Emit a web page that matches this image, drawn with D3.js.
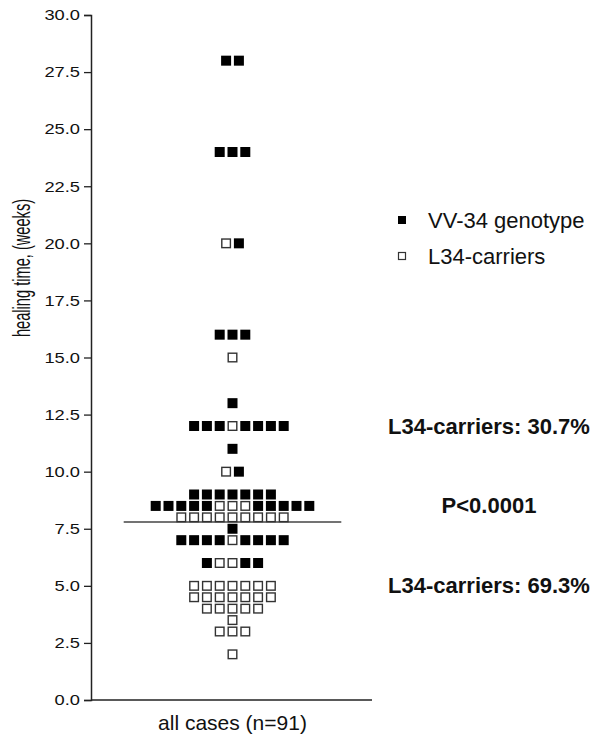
<!DOCTYPE html>
<html lang="en">
	<head>
		<meta charset="utf-8">
		<title>Healing time scatter</title>
		<script type="text/javascript" src="https://d3js.org/d3.v7.min.js"></script>
		<style type="text/css">
			body { margin: 0; background: #fff; }
			text { font-family: "Liberation Sans", Arial, sans-serif; fill: #111; }
		</style>
	</head>
	<body>
		<script type="text/javascript">

			//Width and height
			var w = 602;
			var h = 736;

			// one row per healing time value, F = VV-34 genotype, O = L34-carriers
			var rowValues = [28, 24, 20, 16, 15, 13, 12, 11, 10, 9, 8.5, 8, 7.5, 7, 6, 5, 4.5, 4, 3.5, 3, 2];
			var rowGroups = ["FF", "FFF", "OF", "FFF", "O", "F", "FFFOFFFF", "F", "OF", "FFFFFFF",
				"FFFFFOOOFFFFF", "OOOOOOOOO", "F", "FFFFOFFFF", "FOOFF", "OOOOOOO", "OOOOOOO",
				"OOOOO", "O", "OOO", "O"];
			// slot shift of a row (the 12.0 row is set half a slot to the right)
			var rowShift = [0, 0, 0, 0, 0, 0, 0.5, 0, 0, 0, 0, 0, 0, 0, 0, 0, 0, 0, 0, 0, 0];

			var cutoff = 7.8;
			var yTicks = [0, 2.5, 5, 7.5, 10, 12.5, 15, 17.5, 20, 22.5, 25, 27.5, 30];
			var legendLabels = ["VV-34 genotype", "L34-carriers"];
			var notes = ["L34-carriers: 30.7%", "P<0.0001", "L34-carriers: 69.3%"];
			var noteValues = [12, 8.5, 5];
			var categoryLabel = "all cases (n=91)";
			var yLabel = "healing time, (weeks)";

			// flatten rows to points
			var points = [];
			rowValues.forEach(function(v, i) {
				var g = rowGroups[i];
				for (var j = 0; j < g.length; j++) {
					points.push({ value: v, filled: g[j] == "F", slot: j - (g.length - 1) / 2 + rowShift[i] });
				}
			});

			var y = d3.scaleLinear().domain([0, 30]).range([700, 15]);
			var x = d3.scaleLinear().domain([-1, 1]).range([232.5 - 12.8, 232.5 + 12.8]);

			//Create SVG element
			var svg = d3.select("body")
						.append("svg")
						.attr("width", w)
						.attr("height", h);

			// y axis
			var yAxis = svg.append("g")
				.attr("transform", "translate(91,0)")
				.call(d3.axisLeft(y).tickValues(yTicks).tickFormat(d3.format(".1f")).tickSize(7).tickSizeOuter(7).tickPadding(4));
			yAxis.select(".domain").attr("stroke", "#222").attr("stroke-width", 1.5);
			yAxis.selectAll(".tick line").attr("stroke", "#222").attr("stroke-width", 1.3);
			yAxis.selectAll(".tick text")
				.attr("x", 0)
				.attr("transform", "translate(-11,0) scale(1.22,1)")
				.style("font-size", "15px")
				.attr("fill", "#111");

			// x axis line
			svg.append("line")
				.attr("x1", 91).attr("x2", 372)
				.attr("y1", y(0)).attr("y2", y(0))
				.attr("stroke", "#222").attr("stroke-width", 1.5);

			svg.append("text")
				.attr("x", x(0))
				.attr("y", 730)
				.attr("text-anchor", "middle")
				.style("font-size", "21px")
				.text(categoryLabel);

			svg.append("text")
				.attr("transform", "translate(30,268) rotate(-90) scale(0.61,1)")
				.attr("text-anchor", "middle")
				.style("font-size", "24px")
				.text(yLabel);

			// cutoff line
			svg.append("line")
				.attr("x1", x(-8.5)).attr("x2", x(8.5))
				.attr("y1", y(cutoff)).attr("y2", y(cutoff))
				.attr("stroke", "#444").attr("stroke-width", 1.5);

			// points
			svg.selectAll("rect.pt")
				.data(points)
				.enter()
				.append("rect")
				.attr("class", "pt")
				.attr("x", function(d) { return x(d.slot) - (d.filled ? 5 : 4.3); })
				.attr("y", function(d) { return y(d.value) - (d.filled ? 5 : 4.3); })
				.attr("width", function(d) { return d.filled ? 10 : 8.6; })
				.attr("height", function(d) { return d.filled ? 10 : 8.6; })
				.attr("fill", function(d) { return d.filled ? "#000" : "#fff"; })
				.attr("stroke", function(d) { return d.filled ? "none" : "#333"; })
				.attr("stroke-width", 1.4);

			// legend
			var legend = svg.selectAll("g.legend")
				.data(legendLabels)
				.enter()
				.append("g")
				.attr("class", "legend")
				.attr("transform", function(d, i) { return "translate(402," + (220 + i * 36) + ")"; });
			legend.append("rect")
				.attr("x", function(d, i) { return i ? -3.5 : -4; })
				.attr("y", function(d, i) { return i ? -3.5 : -4; })
				.attr("width", function(d, i) { return i ? 7 : 8; })
				.attr("height", function(d, i) { return i ? 7 : 8; })
				.attr("fill", function(d, i) { return i ? "#fff" : "#000"; })
				.attr("stroke", function(d, i) { return i ? "#333" : "none"; })
				.attr("stroke-width", 1.2);
			legend.append("text")
				.attr("x", 26)
				.attr("y", 7.5)
				.style("font-size", "22px")
				.text(function(d) { return d; });

			// notes on the right
			svg.selectAll("text.note")
				.data(notes)
				.enter()
				.append("text")
				.attr("class", "note")
				.attr("x", 489)
				.attr("y", function(d, i) { return y(noteValues[i]) + 7.5; })
				.attr("text-anchor", "middle")
				.style("font-size", "22px")
				.style("font-weight", "bold")
				.text(function(d) { return d; });

		</script>
	</body>
</html>
